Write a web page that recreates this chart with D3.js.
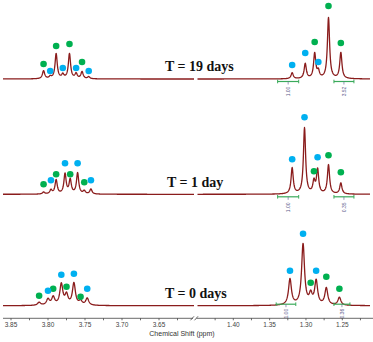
<!DOCTYPE html>
<html><head><meta charset="utf-8">
<script src="https://cdn.jsdelivr.net/npm/d3@7"></script>
<style>body{margin:0;background:#fff}svg{display:block}</style>
</head><body>
<svg id="c" width="373" height="342"></svg>
<script>
// ---------------- data ----------------
const traceLabels = ["T = 19 days", "T = 1 day", "T = 0 days"];
const leftTicks = [3.85, 3.80, 3.75, 3.70, 3.65];
const rightTicks = [1.40, 1.35, 1.30, 1.25];
const axisTitle = "Chemical Shift (ppm)";

// T = 19 days
const t19GreenPpm = [3.806, 3.789, 3.771, 3.754, 1.288, 1.269, 1.252];
const t19GreenAmp = [8, 25, 25, 7, 25, 61, 26];
const t19GreenDot = [15, 33, 35, 17, 37, 73, 36];
const t19BluePpm  = [3.797, 3.780, 3.762, 3.745, 1.319, 1.301, 1.283];
const t19BlueAmp  = [2, 4, 5, 2, 6, 15, 7];
const t19BlueDot  = [8, 11, 11, 8, 14, 26, 17];
const t19IntFrom = [1.339, 1.2615];
const t19IntTo   = [1.310, 1.234];
const t19IntVal  = ["1.00", "3.52"];

// T = 1 day
const t1GreenPpm = [3.806, 3.789, 3.770, 3.751, 1.289, 1.269, 1.252];
const t1GreenAmp = [2, 14, 14, 3, 12, 29, 11];
const t1GreenDot = [10, 20, 20, 12, 23, 39, 22];
const t1BluePpm  = [3.796, 3.777, 3.760, 3.742, 1.319, 1.302, 1.284];
const t1BlueAmp  = [4, 20, 21, 5, 26, 66, 24];
const t1BlueDot  = [14, 31, 31, 14, 35, 77, 37];
const t1IntFrom = [1.339, 1.2615];
const t1IntTo   = [1.310, 1.234];
const t1IntVal  = ["1.00", "0.35"];

// T = 0 days
const t0GreenPpm = [3.812, 3.793, 3.775, 3.756, 1.2935, 1.272, 1.254];
const t0GreenAmp = [3, 8, 10, 4, 10, 17, 8];
const t0GreenDot = [10, 17, 19, 9, 23, 29, 17];
const t0BluePpm  = [3.800, 3.782, 3.765, 3.747, 1.322, 1.304, 1.286];
const t0BlueAmp  = [6, 21, 22, 7, 26, 61, 24];
const t0BlueDot  = [15, 31, 32, 17, 35, 72, 35];
const t0IntFrom = [1.341, 1.2615];
const t0IntTo   = [1.314, 1.2395];
const t0IntVal  = ["1.00", "0.36"];

const lineHalfWidth = [0.0018, 0.0018, 0.0024]; // ppm, per trace

// ---------------- layout ----------------
const svg = d3.select("#c");
const xL = d3.scaleLinear().domain([3.85, 3.65]).range([11, 159]);
const xR = d3.scaleLinear().domain([1.40, 1.25]).range([233.3, 342.3]);
const segL = [3, 194], segR = [197.5, 370];
const baselines = [79, 194.3, 305.7];
const yUnit = d3.scaleLinear().domain([0, 100]).range([0, 100]);
const xp = p => p > 2 ? xL(p) : xR(p);
const RED = "#8a1c1c", GREEN = "#00b050", BLUE = "#00b0f0";

const traces = [
  {label: traceLabels[0], gp: t19GreenPpm, ga: t19GreenAmp, gd: t19GreenDot, bp: t19BluePpm, ba: t19BlueAmp, bd: t19BlueDot, f: t19IntFrom, t: t19IntTo, v: t19IntVal},
  {label: traceLabels[1], gp: t1GreenPpm, ga: t1GreenAmp, gd: t1GreenDot, bp: t1BluePpm, ba: t1BlueAmp, bd: t1BlueDot, f: t1IntFrom, t: t1IntTo, v: t1IntVal},
  {label: traceLabels[2], gp: t0GreenPpm, ga: t0GreenAmp, gd: t0GreenDot, bp: t0BluePpm, ba: t0BlueAmp, bd: t0BlueDot, f: t0IntFrom, t: t0IntTo, v: t0IntVal}
];
const labelPos = [[165, 71], [167, 187], [165, 297.5]];
const bracketOff = [2.5, 2.5, -1.5];
const intLabelOff = [10.5, 11, 6];

const line = d3.line();

traces.forEach((tr, i) => {
  const base = baselines[i];
  const w = lineHalfWidth[i];
  const peaks = tr.gp.map((p, k) => [p, tr.ga[k]]).concat(tr.bp.map((p, k) => [p, tr.ba[k]]));
  const spec = ppm => d3.sum(peaks, ([p, a]) => a * w * w / (w * w + (ppm - p) * (ppm - p)));
  [[segL, xL], [segR, xR]].forEach(([seg, sc]) => {
    const pts = d3.range(seg[0], seg[1] + 0.001, 0.25).map(x => [x, base - yUnit(spec(sc.invert(x)))]);
    svg.append("path").attr("d", line(pts)).attr("fill", "none")
      .attr("stroke", RED).attr("stroke-width", 1.3).attr("stroke-linejoin", "round");
  });

  // integrals
  const g = svg.append("g");
  tr.f.forEach((from, k) => {
    const x0 = xR(from), x1 = xR(tr.t[k]), yb = base + bracketOff[i], xm = (x0 + x1) / 2;
    g.append("line").attr("x1", x0).attr("x2", x1).attr("y1", yb).attr("y2", yb)
      .attr("stroke", "#3aaa5a").attr("stroke-width", 1.2);
    [x0, x1].forEach(xx => g.append("line").attr("x1", xx).attr("x2", xx).attr("y1", yb - 1.8).attr("y2", yb + 1.8)
      .attr("stroke", "#3aaa5a").attr("stroke-width", 1));
    g.append("line").attr("x1", xm).attr("x2", xm).attr("y1", yb).attr("y2", yb + 3)
      .attr("stroke", "#6b6b9b").attr("stroke-width", 0.7);
    g.append("text").attr("transform", `translate(${xm},${base + intLabelOff[i] + 2}) rotate(-90)`)
      .attr("text-anchor", "middle").attr("dominant-baseline", "central")
      .attr("font-family", "Liberation Sans, Arial, sans-serif").attr("font-size", 5)
      .attr("fill", "#5a5a8a").text(tr.v[k]);
  });

  // markers
  tr.gp.forEach((p, k) => svg.append("circle").attr("cx", xp(p)).attr("cy", base - yUnit(tr.gd[k])).attr("r", 3.3).attr("fill", GREEN));
  tr.bp.forEach((p, k) => svg.append("circle").attr("cx", xp(p)).attr("cy", base - yUnit(tr.bd[k])).attr("r", 3.3).attr("fill", BLUE));

  svg.append("text").attr("x", labelPos[i][0]).attr("y", labelPos[i][1])
    .attr("font-family", "Liberation Serif, Times New Roman, serif").attr("font-weight", "bold")
    .attr("font-size", 14).attr("fill", "#111").text(tr.label);
});

// ---------------- axis ----------------
const axY = 318.3;
const ax = svg.append("g");
ax.append("line").attr("x1", 3).attr("x2", 193).attr("y1", axY).attr("y2", axY).attr("stroke", "#444").attr("stroke-width", 0.8);
ax.append("line").attr("x1", 196.5).attr("x2", 373).attr("y1", axY).attr("y2", axY).attr("stroke", "#444").attr("stroke-width", 0.8);
[[190.5, 194], [194.5, 198]].forEach(([a, b]) => ax.append("line").attr("x1", a).attr("x2", b).attr("y1", axY + 2).attr("y2", axY - 2).attr("stroke", "#444").attr("stroke-width", 0.8));

const minorL = d3.range(0, 10).map(k => 3.85 - 0.025 * k).filter(v => xL(v) < 190);
const minorR = d3.range(0, 10).map(k => 1.425 - 0.025 * k).filter(v => xR(v) > 198 && xR(v) < 372);
minorL.forEach(v => ax.append("line").attr("x1", xL(v)).attr("x2", xL(v)).attr("y1", axY).attr("y2", axY + 2).attr("stroke", "#444").attr("stroke-width", 0.8));
minorR.forEach(v => ax.append("line").attr("x1", xR(v)).attr("x2", xR(v)).attr("y1", axY).attr("y2", axY + 2).attr("stroke", "#444").attr("stroke-width", 0.8));

const tickFont = "Liberation Sans, Arial, sans-serif";
leftTicks.forEach(v => ax.append("text").attr("x", xL(v)).attr("y", axY + 9).attr("text-anchor", "middle")
  .attr("font-family", tickFont).attr("font-size", 6.5).attr("fill", "#444").text(v.toFixed(2)));
rightTicks.forEach(v => ax.append("text").attr("x", xR(v)).attr("y", axY + 9).attr("text-anchor", "middle")
  .attr("font-family", tickFont).attr("font-size", 6.5).attr("fill", "#444").text(v.toFixed(2)));
ax.append("text").attr("x", 182).attr("y", 336).attr("text-anchor", "middle")
  .attr("font-family", tickFont).attr("font-size", 7).attr("fill", "#333").text(axisTitle);
</script>
</body></html>
